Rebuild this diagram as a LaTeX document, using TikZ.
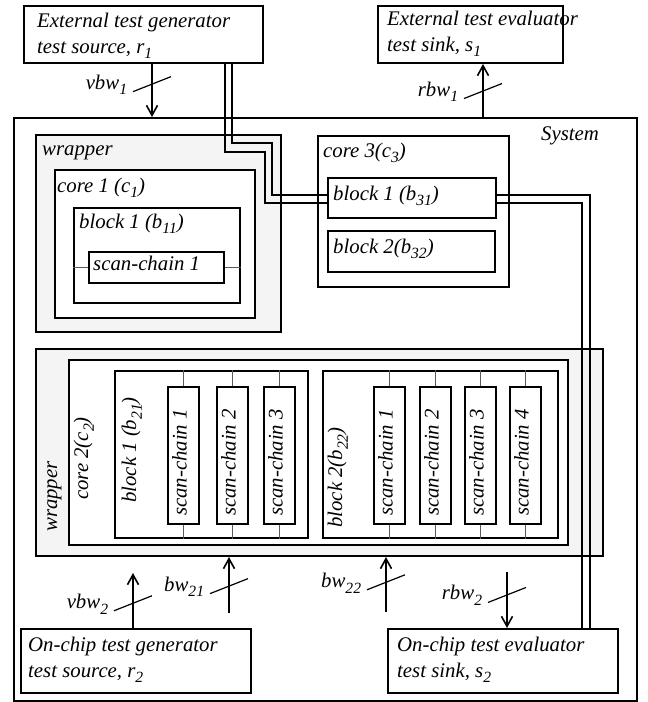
\documentclass[tikz,border=0pt]{standalone}
\usepackage{fontspec}
\setmainfont{Liberation Serif}
\usepackage{tikz}
\usetikzlibrary{arrows.meta,positioning,calc}
\definecolor{WrapGray}{HTML}{F4F4F4}
\newcommand\sbs[1]{\raisebox{-0.28em}{\fontsize{15.6}{15.6}\selectfont #1}}
% slash on a bandwidth arrow, label on its left end
\newcommand\bwmark[2]{\draw[slash] ($(#1)+(-19,7.5)$) node[anchor=base east,xshift=-2pt,yshift=2.5pt]{#2} -- ($(#1)+(19,-7.5)$);}

\begin{document}
\begin{tikzpicture}[x=1pt,y=-1pt,font=\fontsize{20.8}{26}\selectfont\itshape,
  >={Straight Barb[length=10pt,width=11pt]},
  box/.style={draw,line width=2pt,anchor=north west,inner sep=0pt,fill=white},
  wrap/.style={box,fill=WrapGray},
  txt/.style={anchor=base west,inner sep=0pt,align=left},
  vtxt/.style={anchor=base west,inner sep=0pt,rotate=90},
  chain/.style={box,minimum width=31pt,minimum height=137pt},
  link/.style={draw=gray!70!black,line width=1pt},
  sig/.style={->,line width=1.6pt},
  slash/.style={line width=1.2pt},
  bus/.style={line width=2pt}]
  \useasboundingbox (0,0) rectangle (648,702);

  % sources and sinks outside (two-line texts sit on their last baseline)
  \node[box,minimum width=239pt,minimum height=57pt] (gen1) at (23,5) {};
  \node[txt] at (37,53) {External test generator\\test source, r\sbs{1}};
  \node[box,minimum width=185pt,minimum height=57pt] (eval1) at (377,5) {};
  \node[txt] at (387,51) {External test evaluator\\test sink, s\sbs{1}};

  % the system
  \node[box,minimum width=623pt,minimum height=583pt] (sys) at (13,117) {};
  \node[txt] at (541,140) {System};

  % wrapped core 1
  \node[wrap,minimum width=245pt,minimum height=197pt] (wrapA) at (35,134) {};
  \node[txt] at (42,155) {wrapper};
  \node[box,minimum width=200pt,minimum height=148pt] (core1) at (54,169) {};
  \node[txt] at (57,192) {core 1 (c\sbs{1})};
  \node[box,minimum width=166pt,minimum height=95pt] (blk11) at (73,207) {};
  \node[txt] at (79,228) {block 1 (b\sbs{11})};
  \node[box,minimum width=135pt,minimum height=31pt] (sc11) at (88,251) {};
  \node[txt] at (93,270) {scan-chain 1};
  \draw[link] (sc11.west -| blk11.west) -- (sc11.west);
  \draw[link] (sc11.east) -- (sc11.east -| blk11.east);

  % core 3, not wrapped
  \node[box,minimum width=191pt,minimum height=151pt] (core3) at (317,135) {};
  \node[txt] at (323,157) {core 3(c\sbs{3})};
  \node[box,minimum width=168pt,minimum height=40pt] (blk31) at (327,177) {};
  \node[txt] at (333,200) {block 1 (b\sbs{31})};
  \node[box,minimum width=167pt,minimum height=41pt] (blk32) at (327,230) {};
  \node[txt] at (333,253) {block 2(b\sbs{32})};

  % wrapped core 2
  \node[wrap,minimum width=567pt,minimum height=207pt] (wrapB) at (35,348) {};
  \node[vtxt] at (57,532) {wrapper};
  \node[box,minimum width=499pt,minimum height=185pt] (core2) at (68,359) {};
  \node[vtxt] at (88,500) {core 2(c\sbs{2})};
  \node[box,minimum width=193pt,minimum height=167pt] (blk21) at (114,370) {};
  \node[vtxt] at (136,503) {block 1 (b\sbs{21})};
  \node[box,minimum width=235pt,minimum height=167pt] (blk22) at (322,370) {};
  \node[vtxt] at (342,528) {block 2(b\sbs{22})};
  \foreach \cx [count=\i] in {167,216,263} {
    \node[chain] (sca\i) at (\cx,386) {};
    \node[vtxt,anchor=base] at ($(sca\i.center)+(3,7)$) {scan-chain \i};
    \draw[link] (sca\i.north) -- (sca\i.north |- blk21.north);
    \draw[link] (sca\i.south) -- (sca\i.south |- blk21.south);
  }
  \foreach \cx [count=\i] in {373,419,464,509} {
    \node[chain] (scb\i) at (\cx,386) {};
    \node[vtxt,anchor=base] at ($(scb\i.center)+(3,7)$) {scan-chain \i};
    \draw[link] (scb\i.north) -- (scb\i.north |- blk22.north);
    \draw[link] (scb\i.south) -- (scb\i.south |- blk22.south);
  }

  % on-chip source and sink
  \node[box,minimum width=230pt,minimum height=64pt] (gen2) at (20,628) {};
  \node[txt] at (28,677) {On-chip test generator\\test source, r\sbs{2}};
  \node[box,minimum width=230pt,minimum height=64pt] (eval2) at (387,628) {};
  \node[txt] at (397,677) {On-chip test evaluator\\test sink, s\sbs{2}};

  % test access lines
  \coordinate (v2end) at (133,573);
  \coordinate (b21beg) at (229,613);
  \coordinate (b22beg) at (386,612);
  \coordinate (r2beg) at (507,572);
  \draw[sig] (gen1.south -| 152,0) -- coordinate[pos=.38] (m1) (sys.north -| 152,0);
  \draw[sig] (sys.north -| 483,0) -- coordinate[pos=.49] (m2) (eval1.south -| 483,0);
  \draw[sig] (gen2.north -| v2end) -- coordinate[pos=.45] (m3) (v2end);
  \draw[sig] (b21beg) -- coordinate[pos=.48] (m4) (wrapB.south -| b21beg);
  \draw[sig] (b22beg) -- coordinate[pos=.54] (m5) (wrapB.south -| b22beg);
  \draw[sig] (r2beg) -- coordinate[pos=.41] (m6) (eval2.north -| r2beg);
  \bwmark{m1}{vbw\sbs{1}}
  \bwmark{m2}{rbw\sbs{1}}
  \bwmark{m3}{vbw\sbs{2}}
  \bwmark{m4}{bw\sbs{21}}
  \bwmark{m5}{bw\sbs{22}}
  \bwmark{m6}{rbw\sbs{2}}

  % bus from the external source through block b31 to the on-chip sink
  \draw[bus] (gen1.south -| 225,0) |- (265,152) |- (blk31.west |- 0,203);
  \draw[bus] (gen1.south -| 232,0) |- (272,143) |- (blk31.west |- 0,195);
  \draw[bus] (blk31.east |- 0,195) -| (eval2.north -| 590,0);
  \draw[bus] (blk31.east |- 0,203) -| (eval2.north -| 582,0);
\end{tikzpicture}
\end{document}
